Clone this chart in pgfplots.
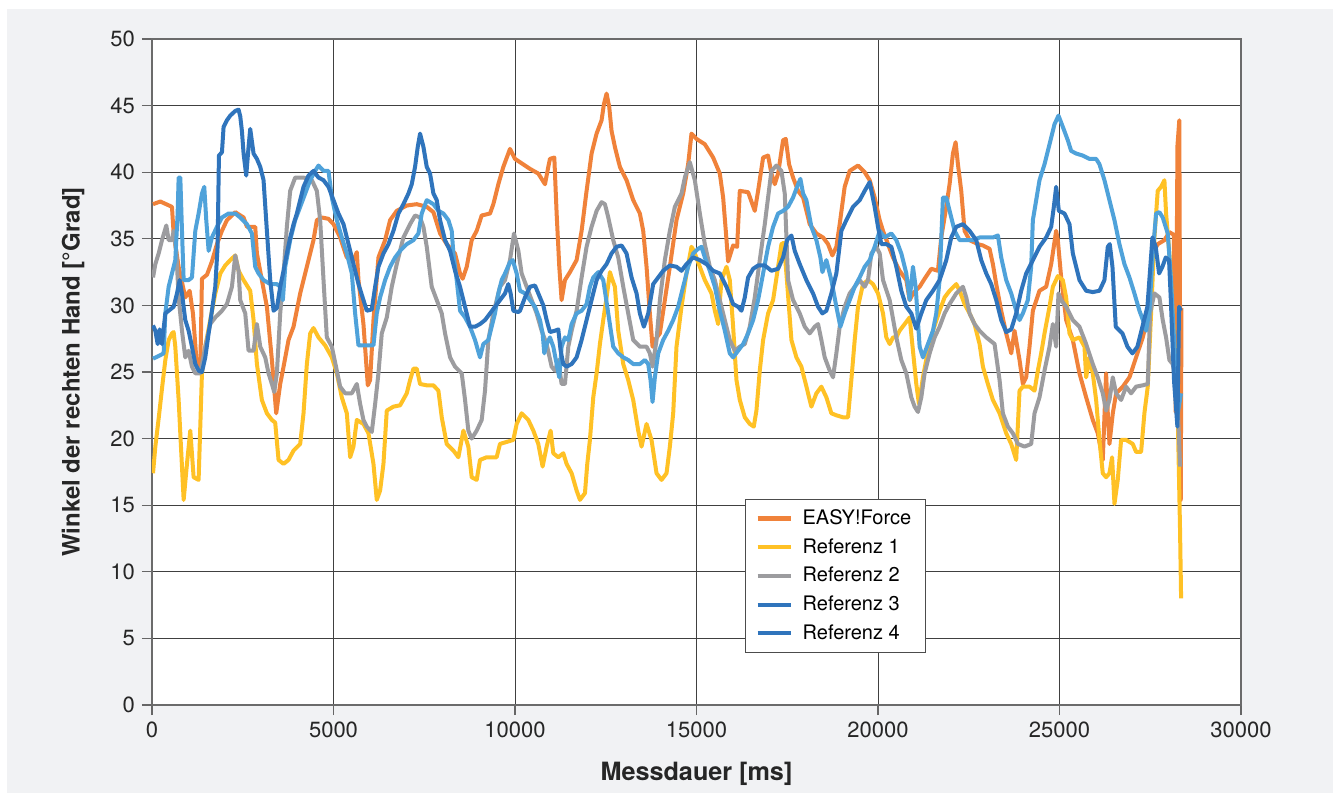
\documentclass[border=0pt]{standalone}
\usepackage{pgfplots}
\pgfplotsset{compat=1.18}
\usepackage{fontspec}
\setmainfont{TeX Gyre Heros}
\definecolor{cOrange}{HTML}{F0823A}
\definecolor{cYellow}{HTML}{FFC125}
\definecolor{cGray}{HTML}{9C9C9F}
\definecolor{cLBlue}{HTML}{4FA2DA}
\definecolor{cDBlue}{HTML}{2F74BC}
\definecolor{panel}{HTML}{F1F2F4}
\begin{document}
\begin{tikzpicture}
\path[use as bounding box] (-76pt,-44pt) rectangle (590.5pt,352.5pt);
\fill[white] (-76pt,-44pt) rectangle (590.5pt,352.5pt);
\fill[panel] (-72.5pt,-44pt) rectangle (590.5pt,348pt);
\begin{axis}[
  at={(0,0)}, anchor=south west,
  scale only axis, width=544.5pt, height=333pt,
  xmin=0, xmax=30000, ymin=0, ymax=50,
  xtick={0,5000,...,30000}, ytick={0,5,...,50},
  scaled ticks=false,
  /pgf/number format/assume math mode=true,
  /pgf/number format/set thousands separator={},
  tick label style={font=\fontsize{11}{13}\selectfont, text=black!85},
  grid=major,
  major grid style={black!75, line width=0.5pt},
  axis line style={black!58, line width=0.7pt},
  axis background/.style={fill=white},
  tick pos=left, tick align=outside,
  major tick length=5pt,
  tick style={black!60, line width=0.6pt},
  xlabel={\textbf{Messdauer [ms]}}, ylabel={\textbf{Winkel der rechten Hand [°Grad]}},
  every axis x label/.style={at={(axis description cs:0.5,0)}, yshift=-34.5pt, anchor=center,
    font=\fontsize{12.6}{14}\selectfont\bfseries, text=black!85},
  every axis y label/.style={at={(axis description cs:0,0.5)}, xshift=-39.5pt, yshift=0pt, rotate=90, anchor=center,
    font=\fontsize{12}{14}\selectfont\bfseries, text=black!85},
  every axis plot/.append style={line width=2pt, line join=round, mark=none},
  legend style={at={(0.5445,0.3093)}, anchor=north west, draw=black!70, line width=0.6pt,
    fill=white, font=\fontsize{10}{11.5}\selectfont, inner xsep=5pt, inner ysep=3pt,
    row sep=1.5pt, cells={anchor=west}},
  legend image code/.code={\draw[#1,line width=2.1pt] (0pt,0pt) -- (16.5pt,0pt); \path (19.5pt,0pt);},
]
% EASY!Force
\addplot[cOrange, forget plot] coordinates {(28,37.6)(229,37.8)(550,37.4)(596,35.4)(734,32.9)(917,30.6)(1037,31.1)(1128,29.4)(1238,25.4)(1330,25.1)(1376,32)(1514,32.3)(1651,33.3)(1789,34.6)(1927,35.6)(2064,36.4)(2294,37)(2523,36.6)(2615,35.9)(2844,35.9)(2890,33.9)(3027,31.9)(3165,29.9)(3303,25.9)(3422,21.9)(3532,24.1)(3624,25.4)(3761,27.4)(3899,28.4)(4082,30.9)(4266,32.9)(4449,34.9)(4541,36.4)(4679,36.6)(4862,36.5)(5000,36.1)(5183,35.1)(5367,33.6)(5550,33.4)(5642,34)(5688,31.9)(5825,28.6)(5945,24.0)(6009,24.4)(6101,28.9)(6238,33.6)(6422,34.9)(6559,36.4)(6743,37.1)(7018,37.5)(7293,37.6)(7569,37.4)(7752,37)(7936,35.4)(8119,34.6)(8348,33.9)(8486,32.4)(8559,32.0)(8670,32.9)(8807,34.9)(8945,35.6)(9082,36.75)(9312,36.9)(9403,37.6)(9541,39.1)(9679,40.4)(9862,41.75)(10000,41)(10138,40.75)(10413,40.25)(10642,39.9)(10826,39.1)(10917,40.4)(10963,41)(11083,41.1)(11147,36.9)(11220,32.9)(11284,30.4)(11376,31.9)(11514,32.5)(11697,33.4)(11835,35.6)(11972,38.6)(12110,41.4)(12248,42.9)(12385,43.9)(12449,45.1)(12523,45.9)(12596,44.9)(12660,43.1)(12752,41.9)(12890,40.4)(13073,39.4)(13257,37.9)(13440,36.9)(13532,35.6)(13624,32.9)(13715,29.4)(13789,26.9)(13853,27.4)(13991,27.9)(14128,30.4)(14266,32.9)(14449,36.4)(14633,38.4)(14770,40.6)(14862,42.9)(15000,42.5)(15229,42.1)(15459,41.1)(15642,39.9)(15734,38.1)(15807,35.6)(15871,33.3)(16009,34.5)(16119,34.4)(16193,38.6)(16422,38.5)(16605,37.1)(16697,38.6)(16835,41.1)(16972,41.25)(17064,39.9)(17156,39.1)(17248,39.9)(17385,42.4)(17459,42.5)(17550,40.6)(17660,39.6)(17798,38.6)(17936,38.1)(18119,36.1)(18303,35.4)(18486,35.1)(18624,34.6)(18743,33.75)(18853,34.4)(18945,36.1)(19082,38.9)(19220,40.1)(19449,40.5)(19633,40)(19771,39.4)(19908,38.1)(20046,36.4)(20138,35.6)(20275,34.6)(20413,33.6)(20596,32.6)(20780,31.9)(20872,30.4)(20963,30.9)(21147,31.4)(21284,32.0)(21468,32.75)(21651,32.6)(21743,35.1)(21881,37.4)(21972,39.1)(22064,41.4)(22138,42.25)(22202,40.6)(22293,38.6)(22385,35.6)(22523,34.9)(22752,34.6)(22890,34.5)(23073,34.25)(23165,33.1)(23257,31.6)(23394,29.6)(23532,27.9)(23670,26.4)(23761,28.1)(23899,25.9)(23991,24.1)(24082,24.6)(24174,26.9)(24266,29.6)(24449,31.1)(24633,31.4)(24771,33.1)(24908,35.6)(24954,34.9)(25046,32.1)(25183,28.9)(25367,27.4)(25550,24.9)(25734,23.1)(25917,21.4)(26055,20.4)(26192,18.4)(26284,24.9)(26330,21.9)(26376,19.6)(26468,21.9)(26559,23.4)(26743,23.9)(26927,24.6)(27110,26.1)(27294,27.6)(27385,28.6)(27477,31.1)(27569,33.9)(27706,34.6)(27890,34.9)(28027,35.5)(28150,35.3)(28200,22)(28250,42)(28300,43.9)(28340,15.4)(28360,29.8)};
% Referenz 1
\addplot[cYellow, forget plot] coordinates {(28,17.4)(92,19.4)(183,21.5)(275,23.75)(367,25.9)(459,27.4)(550,27.9)(596,28)(642,26.9)(734,22.9)(798,19.4)(872,15.4)(963,18.1)(1055,20.6)(1147,17.1)(1284,16.9)(1376,24.9)(1468,26.9)(1605,28.9)(1743,30.9)(1881,32.4)(2018,33)(2156,33.4)(2294,33.75)(2385,32.6)(2523,31.9)(2706,31.1)(2798,28.9)(2890,25.6)(3027,22.9)(3165,21.9)(3303,21.4)(3394,21.2)(3486,18.4)(3624,18.1)(3761,18.4)(3899,19.1)(4082,19.6)(4174,21.9)(4266,25.6)(4358,27.9)(4449,28.3)(4587,27.6)(4770,27)(4954,26.1)(5092,24.9)(5229,23.1)(5367,21.9)(5459,18.6)(5550,19.4)(5642,21.4)(5825,21.1)(5963,20.4)(6101,18.1)(6192,15.4)(6284,16.1)(6376,18.1)(6468,22.1)(6651,22.4)(6835,22.5)(7018,23.4)(7110,24.4)(7202,25.25)(7293,25.25)(7385,24.1)(7569,24.0)(7752,24.0)(7890,23.6)(7982,21.6)(8119,19.6)(8303,19.1)(8440,18.6)(8578,20.6)(8715,19.4)(8807,17.1)(8945,16.9)(9036,18.4)(9220,18.6)(9495,18.6)(9587,19.6)(9770,19.75)(9954,19.9)(10046,21.1)(10183,21.9)(10367,21.4)(10505,20.6)(10642,19.6)(10761,17.9)(10872,19.4)(10982,20.6)(11055,18.9)(11193,18.6)(11330,18.9)(11422,18.1)(11560,17.4)(11697,16.1)(11789,15.4)(11927,15.9)(11991,18.1)(12064,19.9)(12156,23.1)(12248,24.9)(12339,27.1)(12431,28.9)(12523,30.6)(12615,32.5)(12660,32.1)(12752,31.4)(12844,28.1)(12982,25.6)(13119,24.4)(13257,22.9)(13394,20.6)(13486,19.4)(13624,21.1)(13761,19.9)(13899,17.4)(14037,16.9)(14174,17.4)(14266,19.4)(14358,21.9)(14449,26.9)(14587,29.9)(14725,32.4)(14862,34.4)(14926,34.1)(15092,32.9)(15229,31.9)(15413,30.9)(15505,29.6)(15596,28.6)(15688,31.9)(15826,32.9)(15917,31.9)(16009,28.4)(16101,24.4)(16193,22.9)(16330,21.6)(16468,21.1)(16578,20.9)(16651,22.1)(16743,25.1)(16835,27.4)(16972,29.4)(17110,30.4)(17248,32.9)(17340,34.6)(17404,34.7)(17477,32.4)(17615,27.4)(17752,26.1)(17890,25.4)(18028,23.9)(18165,22.4)(18303,23.4)(18440,23.9)(18578,23.1)(18715,21.9)(18853,21.75)(19036,21.6)(19174,21.6)(19266,24.4)(19358,27.4)(19449,29.9)(19587,31.6)(19725,31.9)(19862,31.6)(20000,30.9)(20138,29.4)(20229,27.6)(20321,27.1)(20413,27.6)(20505,27.6)(20596,28.1)(20734,28.6)(20872,29.1)(20963,26.6)(21055,24.1)(21128,22.6)(21238,24.6)(21376,26.6)(21514,28.1)(21697,29.6)(21835,30.6)(21972,31.1)(22156,31.6)(22248,31.1)(22385,30.1)(22523,29.4)(22660,28.6)(22798,27.1)(22890,25.4)(23027,24.1)(23165,22.9)(23349,21.9)(23532,20.4)(23670,19.6)(23807,18.4)(23899,23.6)(23991,23.9)(24174,23.9)(24312,23.6)(24404,25.1)(24495,26.4)(24587,27.9)(24725,29.9)(24817,31.4)(24954,32.2)(25092,31.9)(25183,30.6)(25275,27.9)(25367,27.4)(25550,27.6)(25688,26.9)(25734,24.6)(25825,26.1)(25917,24.9)(26009,22.9)(26101,19.9)(26192,17.4)(26284,17.1)(26376,17.4)(26449,18.6)(26514,15.1)(26605,16.9)(26697,19.9)(26835,19.9)(27018,19.6)(27110,19.0)(27248,19.0)(27339,21.9)(27431,23.9)(27523,29.4)(27615,35.1)(27706,38.6)(27798,38.9)(27890,39.4)(27936,36.9)(28027,33.9)(28165,27)(28257,21.9)(28321,13.1)(28350,8.0)};
% Referenz 2
\addplot[cGray, forget plot] coordinates {(28,32.1)(92,33.1)(183,33.9)(275,34.9)(394,36)(459,34.9)(550,34.9)(596,35.6)(670,34)(734,30.6)(826,28.1)(917,26.1)(1009,26.6)(1101,25.4)(1193,24.9)(1330,24.9)(1468,26.9)(1605,28.6)(1743,29.1)(1927,29.6)(2064,30.1)(2202,31.4)(2294,33.75)(2385,32.6)(2431,30.4)(2569,29.4)(2660,26.6)(2798,26.6)(2890,28.6)(2982,26.9)(3119,26.1)(3211,24.9)(3303,24.1)(3367,23.5)(3440,24.9)(3532,29.4)(3624,32.4)(3715,35.9)(3807,38.6)(3945,39.6)(4174,39.6)(4404,39.4)(4541,38.6)(4633,36.4)(4725,31.9)(4816,27.6)(4954,26.9)(5092,25.1)(5183,23.9)(5321,23.4)(5504,23.4)(5642,24.1)(5734,22.6)(5825,21.4)(5917,20.9)(6055,20.5)(6147,22.6)(6238,24.9)(6330,27.9)(6468,29.1)(6605,31.4)(6743,33.1)(6926,35.1)(7110,36.1)(7247,36.75)(7385,36.6)(7477,35.9)(7569,34.4)(7706,31.4)(7844,30.4)(7982,29.4)(8073,27.9)(8211,26.1)(8348,25.4)(8532,24.9)(8624,22.9)(8715,20.6)(8807,20)(8945,20.6)(9082,21.4)(9174,23.6)(9266,27.4)(9403,29.4)(9587,31.4)(9725,31.9)(9862,33.4)(9972,35.4)(10092,34.1)(10183,32.4)(10321,31.4)(10459,30.4)(10596,29.4)(10734,28.1)(10872,27.1)(11009,25.4)(11101,25.1)(11193,25.9)(11284,24.1)(11376,24.1)(11468,26.9)(11560,28.1)(11697,29.6)(11835,32.1)(11972,34.4)(12110,35.9)(12248,37.1)(12385,37.75)(12477,37.6)(12569,36.6)(12706,34.9)(12844,33.6)(12982,31.4)(13119,29.4)(13257,27.4)(13440,26.9)(13624,26.9)(13715,26.4)(13789,25.4)(13899,27.4)(13991,30.4)(14128,33.4)(14266,35.6)(14404,37.4)(14587,38.4)(14679,39.6)(14816,40.75)(14954,39.4)(15092,36.9)(15229,34.6)(15367,32.9)(15505,31.9)(15642,30.4)(15780,28.9)(15917,27.4)(16055,26.6)(16193,26.9)(16330,27.1)(16468,28.4)(16605,30.6)(16743,33.4)(16881,36.1)(16972,38.1)(17064,40.1)(17202,40.5)(17339,40.1)(17431,38.4)(17523,31.9)(17660,30.4)(17844,29.4)(17982,28.4)(18119,27.9)(18257,28.4)(18349,28.6)(18440,27.4)(18532,26.1)(18670,25.1)(18761,24.6)(18853,26.4)(18945,28.4)(19082,29.9)(19220,30.9)(19358,31.4)(19495,31.9)(19633,31.4)(19725,31.9)(19817,33.9)(19954,34.4)(20046,33.9)(20138,31.9)(20321,30.4)(20505,27.6)(20642,25.9)(20780,24.9)(20917,23.1)(21009,22.4)(21101,22.0)(21193,23.1)(21284,24.9)(21422,26.4)(21560,27.6)(21697,28.4)(21835,29.4)(21972,30.1)(22156,30.9)(22339,31.4)(22431,30.6)(22523,29.4)(22660,28.6)(22798,28.1)(22982,27.6)(23211,27.1)(23349,24.4)(23440,21.9)(23578,20.9)(23715,20.4)(23853,19.6)(24037,19.4)(24220,19.6)(24312,21.9)(24449,23.1)(24587,25.1)(24725,26.9)(24817,28.6)(24908,26.9)(24972,30.9)(25046,30.4)(25183,29.9)(25367,28.9)(25550,28.4)(25734,27.1)(25917,25.6)(26055,24.6)(26192,23.4)(26284,22.1)(26376,22.9)(26468,24.6)(26559,23.4)(26697,22.9)(26835,23.9)(26972,23.4)(27110,23.9)(27294,24.0)(27431,24.1)(27495,29.4)(27615,30.9)(27752,30.6)(27844,28.9)(27936,27.6)(28027,25.9)(28119,25.6)(28192,24.4)(28257,22.6)(28321,17.9)};
% Referenz 3
\addplot[cLBlue, forget plot] coordinates {(28,26)(183,26.2)(321,26.4)(367,29.4)(459,31.4)(550,32.4)(642,33.4)(706,36.9)(734,39.6)(780,39.6)(826,35.6)(872,31.9)(1009,31.9)(1101,32.1)(1193,35.6)(1284,36.9)(1376,38.4)(1440,38.9)(1495,36.4)(1560,34.1)(1651,35.1)(1789,35.9)(1927,36.6)(2110,36.9)(2294,36.9)(2431,36.6)(2615,36.1)(2752,35.4)(2844,32.9)(2936,32.4)(3073,31.9)(3257,31.6)(3440,31.6)(3532,31.4)(3605,30.4)(3670,32.9)(3807,34.9)(3945,36.4)(4082,37.4)(4220,38.4)(4358,39.4)(4495,40.1)(4587,40.5)(4725,40.1)(4862,40.1)(4954,38.1)(5092,36.4)(5229,35.1)(5367,33.9)(5504,32.4)(5596,29.4)(5688,27)(5917,27)(6101,27)(6192,29.4)(6284,30.6)(6422,31.9)(6559,32.9)(6697,33.6)(6835,34.1)(7018,34.6)(7202,34.9)(7339,35.4)(7431,36.9)(7569,37.9)(7752,37.6)(7890,37.1)(8027,36.9)(8165,36.4)(8257,35.6)(8303,33.9)(8394,31.9)(8486,29.6)(8624,29.1)(8761,28.4)(8899,27.4)(9036,26.1)(9128,27.1)(9266,27.4)(9357,28.4)(9449,29.4)(9541,30.9)(9633,31.9)(9725,32.4)(9862,33.25)(9936,33.4)(10046,32.4)(10138,31.1)(10275,30.9)(10413,30.4)(10550,29.9)(10688,28.9)(10761,27.9)(10807,26.4)(10872,27.1)(10963,27.6)(11055,26.9)(11147,25.6)(11220,24.6)(11284,26.9)(11376,27.6)(11468,27.4)(11560,28.6)(11697,29.4)(11835,29.6)(11972,30.1)(12064,31.4)(12156,32.1)(12294,32.5)(12431,31.9)(12569,29.4)(12706,26.9)(12844,26.4)(12982,26.1)(13119,25.9)(13257,25.6)(13440,25.6)(13578,25.9)(13670,25.6)(13734,24.4)(13789,22.75)(13853,24.6)(13945,26.4)(14082,27.4)(14220,28.1)(14358,28.9)(14495,29.9)(14587,30.9)(14679,31.9)(14770,32.9)(14908,33.9)(15046,34.25)(15138,34.4)(15229,33.6)(15367,32.6)(15505,31.4)(15642,29.6)(15780,28.1)(15917,26.4)(16009,26.1)(16147,26.6)(16284,27.1)(16422,27.9)(16560,28.9)(16697,30.4)(16835,32.4)(16972,34.4)(17110,35.9)(17248,36.9)(17385,37.1)(17523,37.4)(17660,38.1)(17798,39.1)(17862,39.5)(17936,38.4)(18027,37.9)(18165,35.9)(18303,34.9)(18413,33.6)(18468,32.5)(18578,33.4)(18715,31.9)(18853,29.9)(18963,28.4)(19082,29.4)(19220,30.4)(19358,31.4)(19495,32.1)(19633,32.9)(19771,33.4)(19908,34.4)(20046,35.6)(20183,35.1)(20367,35.4)(20505,34.9)(20642,33.9)(20780,32.4)(20872,30.4)(20963,32.9)(21037,31.4)(21147,26.9)(21238,26.1)(21376,27.1)(21514,28.1)(21605,29.4)(21697,31.9)(21789,38.1)(21881,38.1)(21972,37.1)(22110,35.6)(22248,34.9)(22431,34.9)(22615,34.9)(22798,35.1)(22982,35.1)(23165,35.1)(23303,35.25)(23394,33.6)(23532,31.9)(23670,30.9)(23807,29.6)(23899,28.9)(23991,29.4)(24128,30.4)(24220,32.9)(24266,36.4)(24358,37.9)(24449,39.4)(24587,40.6)(24725,42.1)(24862,43.6)(24972,44.25)(25092,43.4)(25229,42.4)(25321,41.6)(25459,41.4)(25642,41.25)(25825,41.0)(26009,41.0)(26101,40.6)(26238,39.4)(26376,37.9)(26514,36.4)(26651,34.6)(26789,33.1)(26927,32.1)(27064,30.9)(27202,29.6)(27339,28.6)(27385,28.1)(27477,29.6)(27569,33.9)(27661,36.9)(27752,37.0)(27844,36.6)(27982,35.4)(28073,31.9)(28165,26.9)(28257,21.9)(28349,23.4)};
% Referenz 4
\addplot[cDBlue, forget plot] coordinates {(28,28.5)(92,28.1)(156,27.1)(211,28.2)(275,27.1)(367,29.4)(459,29.6)(596,29.9)(688,30.9)(761,31.9)(826,30.9)(917,28.9)(1009,28.1)(1101,26.9)(1193,25.6)(1284,25.1)(1376,25)(1468,26.1)(1560,27.9)(1651,29.6)(1743,31.4)(1807,34.4)(1844,41.25)(1927,41.5)(1972,43.4)(2064,43.9)(2156,44.25)(2294,44.6)(2385,44.7)(2431,44.2)(2477,43.1)(2523,41.4)(2596,39.75)(2660,41.9)(2706,43.25)(2798,41.4)(2890,41)(2982,40.4)(3073,39.4)(3165,35.6)(3257,31.9)(3349,29.6)(3440,29.8)(3532,31.4)(3624,32.6)(3715,33.9)(3807,35.1)(3899,36.1)(3991,36.9)(4082,37.9)(4174,38.9)(4312,39.75)(4449,40.1)(4587,39.6)(4725,39.4)(4862,38.9)(5000,37.9)(5137,36.9)(5275,36.1)(5413,34.6)(5550,33.1)(5688,31.6)(5825,30.4)(5917,29.6)(6055,29.7)(6147,31.4)(6238,32.9)(6376,33.9)(6514,34.6)(6651,35.6)(6789,36.9)(6926,37.6)(7064,38.4)(7156,39.1)(7247,40.4)(7321,41.9)(7385,42.9)(7477,41.9)(7569,40.4)(7660,39.9)(7752,38.4)(7844,37.9)(7936,36.4)(8073,34.9)(8211,34.1)(8348,32.6)(8486,31.4)(8624,29.9)(8761,28.4)(8899,28.4)(9036,28.6)(9174,28.9)(9312,29.4)(9449,29.9)(9587,30.4)(9725,30.9)(9816,31.6)(9880,30.9)(9954,29.6)(10091,29.5)(10138,29.6)(10275,30.6)(10413,31.4)(10550,31.5)(10642,30.9)(10780,30)(10872,28.9)(10963,28)(11101,28.1)(11193,28.2)(11257,26.6)(11330,25.6)(11422,25.4)(11560,25.6)(11697,26.1)(11835,27.4)(11972,28.9)(12110,30.4)(12248,31.9)(12385,32.6)(12523,33.1)(12660,33.9)(12798,34.4)(12936,34.5)(13073,33.9)(13211,32.1)(13349,30.9)(13440,29.4)(13550,28.4)(13670,29.4)(13807,31.6)(13945,32.1)(14082,32.6)(14266,33)(14449,32.9)(14587,32.6)(14725,33.1)(14908,33.6)(15092,33.4)(15275,33.1)(15459,32.6)(15642,32.4)(15826,31.4)(16009,30.1)(16147,29.9)(16238,29.6)(16330,30.6)(16422,32.1)(16560,32.75)(16697,33.0)(16881,33)(17064,32.6)(17248,32.75)(17385,33.6)(17495,34.9)(17615,35.25)(17706,34.1)(17844,33.1)(18027,31.9)(18211,30.9)(18349,29.9)(18468,29.4)(18578,29.6)(18715,30.9)(18853,32.4)(18991,35.6)(19128,36.4)(19312,37.4)(19495,37.9)(19633,38.6)(19771,39.25)(19908,37.4)(20000,35.9)(20092,34.6)(20229,34.6)(20367,34.4)(20505,32.9)(20642,31.1)(20780,29.9)(20917,29.4)(21055,28.25)(21193,29.4)(21330,30.4)(21514,31.1)(21697,31.9)(21881,33.4)(22018,35.1)(22156,35.9)(22339,36.1)(22523,35.6)(22706,34.9)(22844,33.4)(22982,32.4)(23119,31.6)(23257,30.4)(23394,28.9)(23532,28.0)(23670,28.2)(23807,29.4)(23945,31.1)(24082,32.4)(24266,33.4)(24449,34.4)(24633,35.1)(24771,35.9)(24844,37.4)(24908,38.9)(24982,37.1)(25138,36.9)(25275,36.1)(25367,33.9)(25505,32.4)(25550,31.9)(25734,31.1)(25917,31.0)(26101,31.1)(26238,31.9)(26330,34.4)(26385,34.6)(26459,32.9)(26550,28.4)(26734,27.9)(26872,26.9)(27009,26.4)(27147,26.9)(27284,28.4)(27422,29.9)(27560,35.1)(27651,34.4)(27743,32.4)(27835,32.9)(27927,33.6)(28018,33.4)(28064,30.6)(28156,24.3)(28248,20.9)(28294,29.9)(28339,29.6)};
\addlegendimage{color=cOrange}\addlegendentry{EASY!Force}
\addlegendimage{color=cYellow}\addlegendentry{Referenz 1}
\addlegendimage{color=cGray}\addlegendentry{Referenz 2}
\addlegendimage{color=cDBlue}\addlegendentry{Referenz 3}
\addlegendimage{color=cDBlue}\addlegendentry{Referenz 4}
\end{axis}
\end{tikzpicture}
\end{document}
